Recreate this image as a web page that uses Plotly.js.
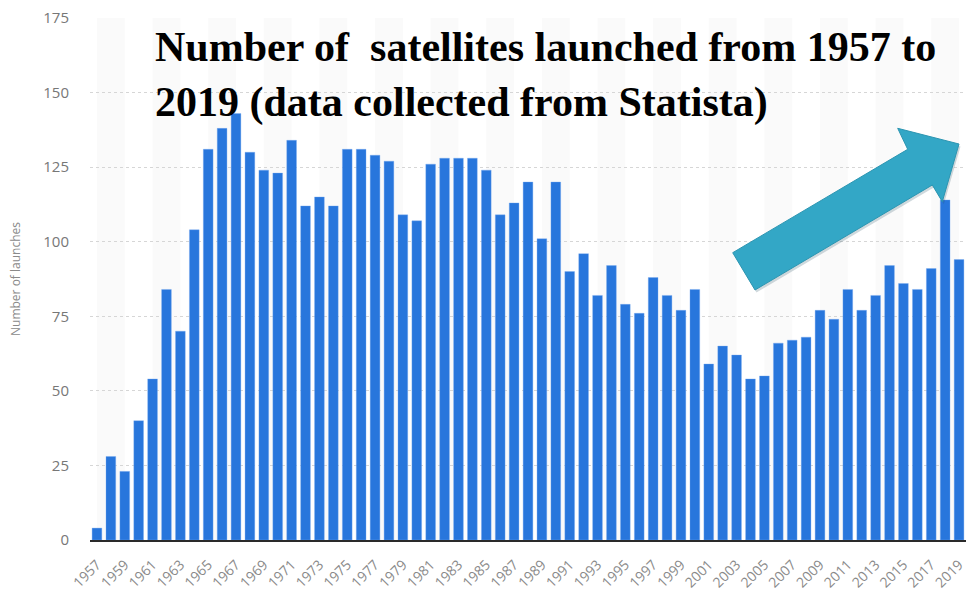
<!DOCTYPE html>
<html>
<head>
<meta charset="utf-8">
<script src="https://cdn.plot.ly/plotly-3.0.1.min.js"></script>
<style>
  html, body { margin: 0; padding: 0; background: #ffffff; }
  #chart { width: 966px; height: 594px; }
</style>
</head>
<body>
<div id="chart"></div>
<script>
// ---- data ----
const years = [
  "1957","1958","1959","1960","1961","1962","1963","1964","1965","1966",
  "1967","1968","1969","1970","1971","1972","1973","1974","1975","1976",
  "1977","1978","1979","1980","1981","1982","1983","1984","1985","1986",
  "1987","1988","1989","1990","1991","1992","1993","1994","1995","1996",
  "1997","1998","1999","2000","2001","2002","2003","2004","2005","2006",
  "2007","2008","2009","2010","2011","2012","2013","2014","2015","2016",
  "2017","2018","2019"
];
const launches = [
  4, 28, 23, 40, 54, 84, 70, 104, 131, 138,
  143, 130, 124, 123, 134, 112, 115, 112, 131, 131,
  129, 127, 109, 107, 126, 128, 128, 128, 124, 109,
  113, 120, 101, 120, 90, 96, 82, 92, 79, 76,
  88, 82, 77, 84, 59, 65, 62, 54, 55, 66,
  67, 68, 77, 74, 84, 77, 82, 92, 86, 84,
  91, 114, 94
];
const yTicks = [0, 25, 50, 75, 100, 125, 150, 175];
const xTickLabels = years.filter((y, i) => i % 2 === 0);
const titleText = "<b>Number of&nbsp;&nbsp;satellites launched from 1957 to<br>2019 (data collected from Statista)</b>";
const yTitle = "Number of launches";

// ---- layout helpers ----
const M = { l: 90, r: 0, t: 18, b: 54 };
const W = 966, H = 594;
const pw = W - M.l - M.r, ph = H - M.t - M.b;
const px = x => (x - M.l) / pw;
const py = y => (H - M.b - y) / ph;

// alternating background bands (between odd-year label positions)
const bands = [];
for (let i = 0; i < years.length; i += 4) {
  bands.push({
    type: "rect", xref: "x", yref: "paper", layer: "below",
    x0: i, x1: Math.min(i + 2, years.length - 0.5), y0: 0, y1: 1,
    fillcolor: "#fafafa", line: { width: 0 }
  });
}

// decorative arrow (pixel outline converted to paper coords)
const arrowPts = [
  [732.7, 252.7], [907.7, 149.3], [897.7, 128.3], [959, 144],
  [942.3, 201.7], [932.3, 185], [755, 290]
];
const toPath = pts => "M " + pts.map(p => px(p[0]).toFixed(5) + "," + py(p[1]).toFixed(5)).join(" L ") + " Z";
const arrowPath = toPath(arrowPts);
const shadowPath = toPath(arrowPts.map(p => [p[0] + 1.5, p[1] + 2.5]));

const trace = {
  type: "bar",
  x: years,
  y: launches,
  marker: { color: "#2876dc", line: { color: "rgba(120,170,240,0.6)", width: 0.6 } },
  hoverinfo: "x+y"
};

const layout = {
  width: W, height: H,
  margin: M,
  paper_bgcolor: "#ffffff",
  plot_bgcolor: "#ffffff",
  showlegend: false,
  bargap: 0.3,
  font: { family: "Open Sans, sans-serif", color: "#707070" },
  xaxis: {
    type: "category",
    range: [-0.5, 62.5],
    tickmode: "array",
    tickvals: xTickLabels,
    ticktext: xTickLabels,
    tickangle: -45,
    tickfont: { size: 14, color: "#8a8a8a" },
    ticklabelstandoff: 9,
    showgrid: false,
    showline: true,
    linecolor: "#2a2a2a",
    linewidth: 2,
    ticks: "",
    fixedrange: true
  },
  yaxis: {
    range: [0, 175],
    tickmode: "array",
    tickvals: yTicks,
    ticktext: yTicks.map(String),
    tickfont: { size: 15, color: "#777777" },
    showgrid: true,
    gridcolor: "#d6d6d6",
    griddash: "dot",
    gridwidth: 1,
    zeroline: false,
    showline: false,
    ticks: "",
    ticklabelstandoff: 20,
    title: { text: yTitle, font: { size: 12, color: "#8a8a8a" }, standoff: 20 },
    fixedrange: true
  },
  shapes: bands.concat([
    { type: "path", xref: "paper", yref: "paper", path: shadowPath,
      fillcolor: "rgba(40,80,100,0.22)", line: { width: 0 }, layer: "above" },
    { type: "path", xref: "paper", yref: "paper", path: arrowPath,
      fillcolor: "#33a7c6", line: { color: "#2c95b1", width: 1 }, layer: "above" }
  ]),
  annotations: [{
    xref: "paper", yref: "paper",
    x: px(153), y: py(22),
    xanchor: "left", yanchor: "top",
    align: "left",
    showarrow: false,
    text: titleText,
    font: { family: "Liberation Serif, Times New Roman, serif", size: 42, color: "#000000" }
  }]
};

Plotly.newPlot("chart", [trace], layout, { displayModeBar: false, staticPlot: true });
</script>
</body>
</html>
